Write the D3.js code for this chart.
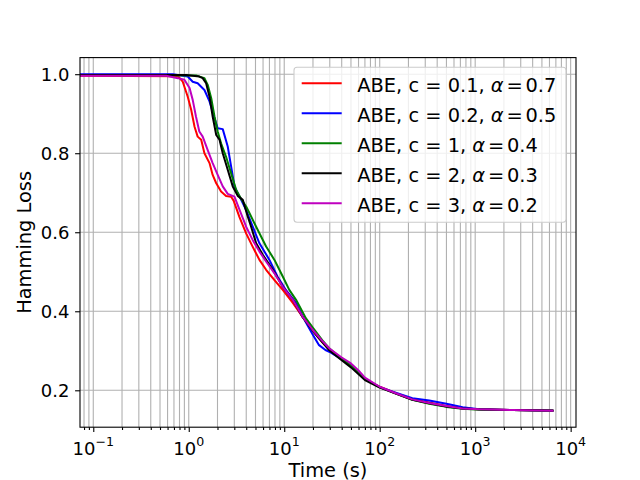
<!DOCTYPE html>
<html>
<head>
<meta charset="utf-8">
<script src="https://cdn.jsdelivr.net/npm/d3@7"></script>
<style>
  body { margin: 0; background: #fff; }
  text { font-family: "DejaVu Sans", sans-serif; fill: #000; }
</style>
</head>
<body>
<svg id="chart" width="640" height="480"></svg>
<script>
// Hamming loss over time: [time in s, loss]
const redSeries = [
  [0.07, 0.996], [0.77, 0.995], [0.865, 0.981], [0.976, 0.943], [1.06, 0.91],
  [1.15, 0.867], [1.24, 0.842], [1.35, 0.834], [1.46, 0.80], [1.65, 0.775],
  [1.78, 0.745], [1.94, 0.724], [2.18, 0.703], [2.46, 0.692], [2.78, 0.69],
  [2.95, 0.68], [3.39, 0.639], [3.99, 0.597], [4.68, 0.563], [5.5, 0.53],
  [6.46, 0.505], [7.9, 0.479], [9.65, 0.454], [12.3, 0.421], [15.6, 0.386],
  [20, 0.35], [25, 0.322], [30, 0.302], [40, 0.279], [50, 0.264], [60, 0.245],
  [70, 0.23], [85, 0.217], [100, 0.209], [150, 0.192], [220, 0.177], [330, 0.169],
  [500, 0.16], [740, 0.154], [1100, 0.152], [2500, 0.15], [6600, 0.148]
]
const blueSeries = [
  [0.07, 1.0], [0.68, 1.0], [0.976, 0.994], [1.10, 0.981], [1.24, 0.977],
  [1.46, 0.96], [1.65, 0.931], [1.86, 0.889], [2.01, 0.863], [2.27, 0.861],
  [2.56, 0.817], [2.78, 0.766], [3.01, 0.716], [3.54, 0.682], [3.99, 0.656],
  [4.68, 0.614], [5.5, 0.572], [7.0, 0.53], [8.5, 0.488], [10.4, 0.454],
  [13.3, 0.421], [17, 0.37], [20, 0.34], [23, 0.315], [27, 0.302], [30, 0.297],
  [40, 0.278], [50, 0.262], [70, 0.229], [100, 0.208], [150, 0.193], [220, 0.18],
  [330, 0.174], [500, 0.166], [740, 0.157], [1100, 0.152], [2500, 0.15], [6600, 0.148]
]
const greenSeries = [
  [0.07, 0.998], [1.19, 0.997], [1.46, 0.99], [1.58, 0.973], [1.72, 0.939],
  [1.86, 0.893], [2.01, 0.855], [2.18, 0.825], [2.46, 0.791], [2.78, 0.749],
  [3.14, 0.707], [3.54, 0.684], [3.99, 0.665], [4.33, 0.648], [5.08, 0.614],
  [6.46, 0.564], [7.9, 0.53], [9.65, 0.488], [11.3, 0.454], [13.3, 0.429],
  [16.9, 0.382], [20, 0.358], [25, 0.327], [30, 0.305], [40, 0.28], [50, 0.262],
  [70, 0.229], [100, 0.208], [150, 0.191], [220, 0.176], [330, 0.166], [500, 0.158],
  [740, 0.153], [1100, 0.151], [2500, 0.15], [6600, 0.148]
]
const blackSeries = [
  [0.07, 0.998], [0.94, 0.998], [1.29, 0.994], [1.40, 0.99], [1.52, 0.977],
  [1.65, 0.943], [1.78, 0.893], [1.94, 0.846], [2.10, 0.834], [2.27, 0.80],
  [2.56, 0.758], [2.89, 0.716], [3.26, 0.692], [3.68, 0.682], [4.15, 0.64],
  [4.5, 0.614], [5.08, 0.572], [5.96, 0.543], [7.6, 0.505], [9.65, 0.462],
  [12.3, 0.429], [15.6, 0.385], [20, 0.35], [25, 0.322], [30, 0.3], [40, 0.276],
  [50, 0.258], [70, 0.226], [100, 0.207], [150, 0.191], [220, 0.176], [330, 0.167],
  [500, 0.159], [740, 0.154], [1100, 0.152], [2500, 0.15], [6600, 0.149]
]
const magentaSeries = [
  [0.07, 0.996], [0.58, 0.996], [0.77, 0.99], [0.90, 0.986], [1.02, 0.965],
  [1.10, 0.935], [1.19, 0.893], [1.29, 0.855], [1.40, 0.842], [1.58, 0.808],
  [1.78, 0.775], [2.01, 0.745], [2.27, 0.716], [2.56, 0.697], [3.01, 0.69],
  [3.39, 0.658], [3.99, 0.614], [4.68, 0.58], [5.5, 0.551], [6.46, 0.526],
  [7.9, 0.496], [9.65, 0.462], [12.3, 0.429], [15.6, 0.386], [20, 0.352],
  [25, 0.325], [30, 0.305], [40, 0.283], [50, 0.268], [60, 0.25], [70, 0.232],
  [100, 0.209], [150, 0.192], [220, 0.177], [330, 0.168], [500, 0.16], [740, 0.154],
  [1100, 0.152], [2500, 0.15], [6600, 0.148]
]

const cValues = ["0.1", "0.2", "1", "2", "3"]
const alphaValues = ["0.7", "0.5", "0.4", "0.3", "0.2"]
const allSeries = [redSeries, blueSeries, greenSeries, blackSeries, magentaSeries]
const colors = ["#ff0000", "#0000ff", "#008000", "#000000", "#bf00bf"]

const yTicks = [0.2, 0.4, 0.6, 0.8, 1.0]
const xMajor = [0.1, 1, 10, 100, 1000, 10000]
const xExponents = ["\u22121", "0", "1", "2", "3", "4"]

const plotLeft = 80, plotRight = 576, plotTop = 57.6, plotBottom = 427.2
const tickFont = 18, labelFont = 19.4
const svg = d3.select("#chart")

const x = d3.scaleLog().domain([0.0726, 11376]).range([plotLeft, plotRight])
const y = d3.scaleLinear().domain([0.1066, 1.042]).range([plotBottom, plotTop])

// minor ticks 2..9 in every decade
let xMinor = []
for (let e = -2; e <= 4; e++) {
  for (let m = 2; m <= 9; m++) {
    let v = m * Math.pow(10, e)
    if (v >= x.domain()[0] && v <= x.domain()[1]) xMinor.push(v)
  }
}

// grid
const grid = svg.append("g").attr("stroke", "#b0b0b0").attr("stroke-width", 1.1)
grid.selectAll(".gx")
  .data(xMajor.concat(xMinor))
  .join("line")
  .attr("class", "gx")
  .attr("x1", d => x(d)).attr("x2", d => x(d))
  .attr("y1", plotTop).attr("y2", plotBottom)
grid.selectAll(".gy")
  .data(yTicks)
  .join("line")
  .attr("class", "gy")
  .attr("x1", plotLeft).attr("x2", plotRight)
  .attr("y1", d => y(d)).attr("y2", d => y(d))

// lines
svg.append("clipPath").attr("id", "clip")
  .append("rect").attr("x", plotLeft).attr("y", plotTop)
  .attr("width", plotRight - plotLeft).attr("height", plotBottom - plotTop)

const line = d3.line().x(d => x(d[0])).y(d => y(d[1]))
svg.append("g").attr("clip-path", "url(#clip)")
  .selectAll("path")
  .data(allSeries)
  .join("path")
  .attr("d", line)
  .attr("fill", "none")
  .attr("stroke", (d, i) => colors[i])
  .attr("stroke-width", 2)
  .attr("stroke-linejoin", "round")

// axes
svg.append("g")
  .attr("transform", `translate(0,${plotBottom})`)
  .call(d3.axisBottom(x).tickValues(xMajor).tickFormat("").tickSize(4.9).tickSizeOuter(0))
svg.append("g")
  .attr("transform", `translate(0,${plotBottom})`)
  .call(d3.axisBottom(x).tickValues(xMinor).tickFormat("").tickSize(2.8).tickSizeOuter(0))
const yAxis = svg.append("g")
  .attr("transform", `translate(${plotLeft},0)`)
  .call(d3.axisLeft(y).tickValues(yTicks).tickFormat(d3.format(".1f")).tickSize(4.9).tickSizeOuter(0))
yAxis.selectAll("text").attr("font-size", tickFont).attr("x", -10.5).attr("dy", "0.36em")
  .style("font-family", "DejaVu Sans")

svg.selectAll(".domain").remove()
svg.selectAll(".tick line").attr("stroke", "#000").attr("stroke-width", 1.1)

// x tick labels with exponents
const xLabels = svg.append("g")
xMajor.forEach((v, i) => {
  let t = xLabels.append("text")
    .attr("x", x(v))
    .attr("y", 454.5)
    .attr("text-anchor", "middle")
    .attr("font-size", tickFont)
  t.append("tspan").text("10")
  t.append("tspan").attr("dy", -8.5).attr("font-size", 12.6).text(xExponents[i])
})

// frame
svg.append("rect")
  .attr("x", plotLeft).attr("y", plotTop)
  .attr("width", plotRight - plotLeft).attr("height", plotBottom - plotTop)
  .attr("fill", "none").attr("stroke", "#000").attr("stroke-width", 1.1)

// axis labels
svg.append("text")
  .attr("x", (plotLeft + plotRight) / 2).attr("y", 476.5)
  .attr("text-anchor", "middle").attr("font-size", labelFont)
  .text("Time (s)")
svg.append("text")
  .attr("transform", `translate(31,${(plotTop + plotBottom) / 2}) rotate(-90)`)
  .attr("text-anchor", "middle").attr("font-size", labelFont)
  .text("Hamming Loss")

// legend
const legend = svg.append("g")
legend.append("rect")
  .attr("x", 294).attr("y", 67.3)
  .attr("width", 272).attr("height", 155)
  .attr("rx", 3)
  .attr("fill", "#fff").attr("fill-opacity", 0.8)
  .attr("stroke", "#cccccc").attr("stroke-width", 1.1)

cValues.forEach((c, i) => {
  let cy = 83.3 + i * 30
  legend.append("line")
    .attr("x1", 301.7).attr("x2", 341.7)
    .attr("y1", cy).attr("y2", cy)
    .attr("stroke", colors[i]).attr("stroke-width", 2)
  let t = legend.append("text")
    .attr("x", 357.3).attr("y", cy + 8.2)
    .attr("font-size", labelFont)
  t.append("tspan").text(`ABE, c = ${c}, `)
  t.append("tspan").attr("font-style", "italic").text("\u03b1")
  t.append("tspan").attr("dx", 2.8).text("=")
  t.append("tspan").attr("dx", 2.8).text(alphaValues[i])
})
</script>
</body>
</html>
